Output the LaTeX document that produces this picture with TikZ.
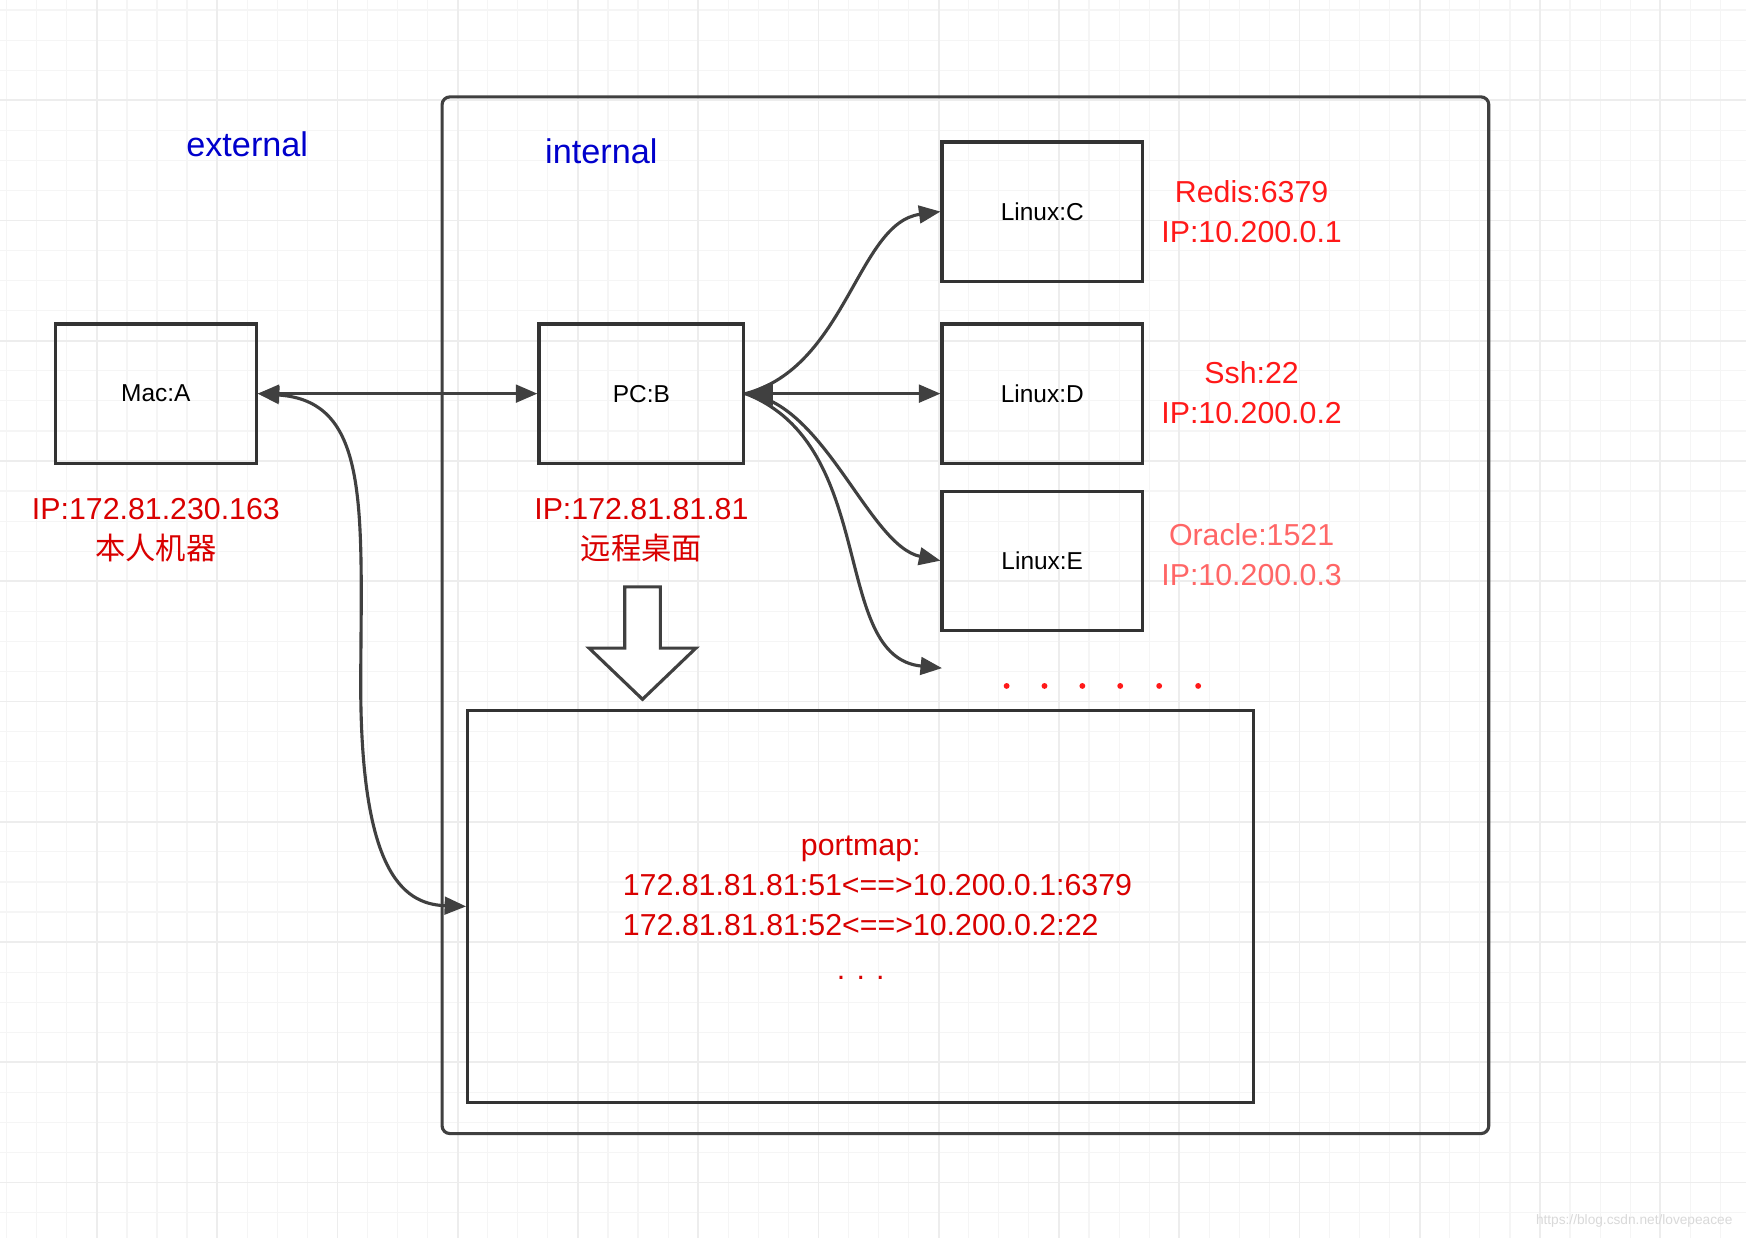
\documentclass[tikz,border=0pt]{standalone}
\usepackage{fontspec}
\setmainfont{Liberation Sans}
\newfontfamily\cjk{Noto Sans CJK SC}
\usetikzlibrary{arrows.meta}
\begin{document}
\begin{tikzpicture}[x=0.02cm,y=-0.02cm,
  box/.style={draw=black!80,line width=1.6pt,minimum width=180*0.02cm,minimum height=125*0.02cm,font=\fontsize{12.5}{15}\selectfont,inner sep=0},
  lbl/.style={text=red!85!black,font=\fontsize{15.5}{20.4}\selectfont,align=center},
  ttl/.style={text=blue!80!black,font=\fontsize{17.5}{20}\selectfont},
  con/.style={draw=black!75,line width=1.6pt,-{Triangle[length=11pt,width=9pt]}},
  dot/.style={circle,fill=red!90,inner sep=0,minimum size=3pt}]
\useasboundingbox (0,0) rectangle (1568,1112);
\fill[white] (0,0) rectangle (1568,1112);
\foreach \x in {6,33,...,1568} \draw[black!4,line width=0.6pt] (\x,0) -- (\x,1112);
\foreach \y in {9,36,...,1112} \draw[black!4,line width=0.6pt] (0,\y) -- (1568,\y);
\foreach \x in {87,195,...,1568} \draw[black!7,line width=0.9pt] (\x,0) -- (\x,1112);
\foreach \y in {90,198,...,1112} \draw[black!7,line width=0.9pt] (0,\y) -- (1568,\y);
\node[draw=black!75,line width=1.6pt,rounded corners=4pt,minimum width=940*0.02cm,minimum height=931*0.02cm,inner sep=0] (outer) at (867,552.5) {};
\node[ttl] (ext) at (222,130) {external};
\node[ttl] (int) at (540,136) {internal};
\node[box] (A) at (140,353.5) {Mac:A};
\node[box,minimum width=184*0.02cm] (B) at (576,353.5) {PC:B};
\node[box] (C) at (936,190) {Linux:C};
\node[box] (D) at (936,353.5) {Linux:D};
\node[box] (E) at (936,503.5) {Linux:E};
\node[lbl] (la) at (140,476) {IP:172.81.230.163\\{\cjk 本人机器}};
\node[lbl] (lb) at (576,476) {IP:172.81.81.81\\{\cjk 远程桌面}};
\node[lbl,text=red!90] (lc) at (1124,190) {Redis:6379\\IP:10.200.0.1};
\node[lbl,text=red!90] (ld) at (1124,353) {Ssh:22\\IP:10.200.0.2};
\node[lbl,text=red!60] (le) at (1124,498) {Oracle:1521\\IP:10.200.0.3};
\node[draw=black!80,line width=1.6pt,minimum width=706*0.02cm,minimum height=352*0.02cm,inner sep=0] (P) at (773,814) {};
\node[lbl,text=red!85!black,align=center] (pt) at (773,815) {portmap:\\\hspace*{1.1em}172.81.81.81:51<==>10.200.0.1:6379\\172.81.81.81:52<==>10.200.0.2:22\hspace*{1.3em}\\[2pt]. . .};
\foreach \x [count=\i] in {904,938,972,1006,1041,1076} \node[dot] (d\i) at (\x,616) {};
\draw[black!75,line width=1.6pt,fill=white,line join=miter] (561,527) -- (593,527) -- (593,582) -- (625,582) -- (577,628) -- (529,582) -- (561,582) -- cycle;
\coordinate (F) at (846,600);
\draw[con,{Triangle[length=11pt,width=9pt]}-{Triangle[length=11pt,width=9pt]}] (A.east) -- (B.west);
\draw[con] (B.east) .. controls (760,330) and (770,200) .. (C.west);
\draw[con,{Triangle[length=14pt,width=12pt]}-{Triangle[length=11pt,width=9pt]}] (B.east) -- (D.west);
\draw[con] (B.east) .. controls (740,360) and (780,490) .. (E.west);
\draw[con] (B.east) .. controls (790,400) and (745,590) .. (F);
\draw[con,{Triangle[length=11pt,width=9pt]}-{Triangle[length=11pt,width=9pt]}] (A.east) .. controls (330,360) and (325,450) .. (324,600) .. controls (322,780) and (360,812) .. (P.west);
\node[font=\fontsize{7}{8}\selectfont,text=black!15,anchor=south east] (wm) at (1562,1108) {https://blog.csdn.net/lovepeacee};
\end{tikzpicture}
\end{document}
